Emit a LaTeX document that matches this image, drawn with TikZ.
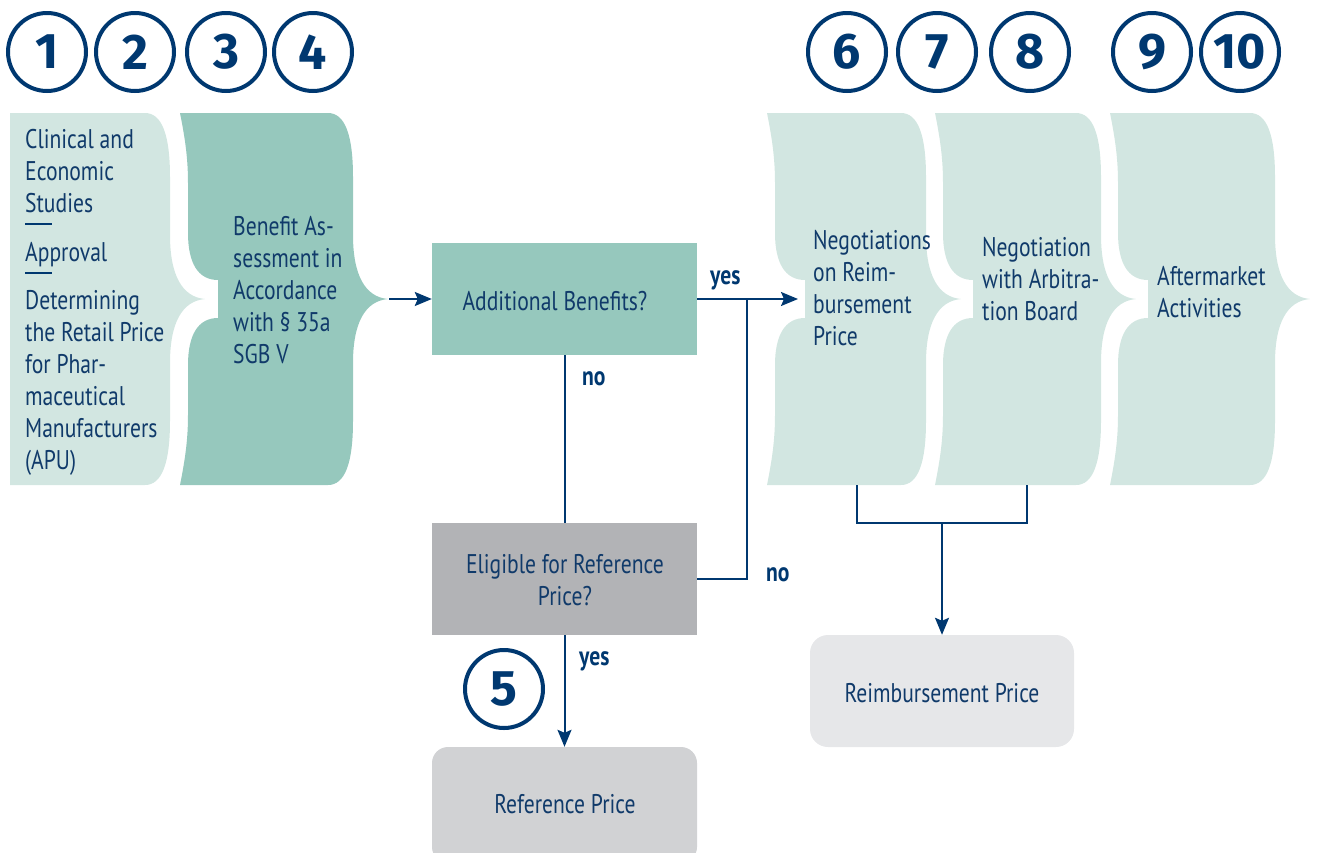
\documentclass[tikz,border=0pt]{standalone}
\usepackage{fontspec}
\setmainfont{PT Sans}[FakeStretch=0.8]
\newfontfamily\numfont{Fira Sans}
\usetikzlibrary{arrows.meta}
\definecolor{tlight}{RGB}{210,230,225}
\definecolor{tdark}{RGB}{150,200,189}
\definecolor{gmid}{RGB}{178,179,182}
\definecolor{glight}{RGB}{209,210,212}
\definecolor{gpale}{RGB}{230,231,233}
\definecolor{navy}{RGB}{0,56,112}
\definecolor{txt}{RGB}{16,58,106}
% right brace edge (top to bottom) of a block, body edge at x=#1
\newcommand{\bkRight}[1]{-- ({#1-25},113) .. controls ({#1-8},113) and (#1,135) .. (#1,177) -- (#1,235) .. controls (#1,275) and ({#1+12},297) .. ({#1+35},299) .. controls ({#1+12},301) and (#1,323) .. (#1,363) -- (#1,421) .. controls (#1,463) and ({#1-8},485) .. ({#1-25},485)}
% left notched edge (bottom to top) of a block, body edge at x=#1
\newcommand{\bkLeft}[1]{-- ({#1-8},485) .. controls ({#1-3},460) and (#1,440) .. (#1,415) -- (#1,365) .. controls (#1,335) and ({#1+10},318) .. ({#1+30},318) -- ({#1+30},280) .. controls ({#1+10},280) and (#1,263) .. (#1,233) -- (#1,183) .. controls (#1,158) and ({#1-3},138) .. ({#1-8},113)}
\begin{document}
\begin{tikzpicture}[x={(1pt,0pt)},y={(0pt,-1pt)},
  num/.style={circle,draw=navy,line width=4pt,minimum size=78pt,inner sep=0pt,text=navy,font=\numfont\bfseries\fontsize{50}{50}\selectfont},
  lbl/.style={inner sep=0pt,text=txt,font=\fontsize{27}{32}\selectfont},
  blbl/.style={inner sep=0pt,text=navy,font=\bfseries\fontsize{27}{32}\selectfont},
  box/.style={inner sep=0pt,minimum width=265pt,minimum height=112pt},
  ln/.style={draw=navy,line width=2pt},
  arr/.style={ln,-{Stealth[length=17pt,width=14pt,inset=3pt]}}]
\useasboundingbox (0,0) rectangle (1320,852);
% step numbers
\node[num] (n1) at (47,52) {1};
\node[num] (n2) at (135,52) {2};
\node[num] (n3) at (226,52) {3};
\node[num] (n4) at (313,52) {4};
\node[num] (n6) at (847,52) {6};
\node[num] (n7) at (937,52) {7};
\node[num] (n8) at (1030,52) {8};
\node[num] (n9) at (1152,52) {9};
\node[num] (n10) at (1240,52) {10};
\node[num] (n5) at (504,689) {5};
% process blocks
\fill[tlight] (10,485) -- (10,113) \bkRight{170} -- cycle;
\fill[tdark] (180,113) \bkRight{353} \bkLeft{188} -- cycle;
\fill[tlight] (767,113) \bkRight{926} \bkLeft{775} -- cycle;
\fill[tlight] (935,113) \bkRight{1101} \bkLeft{943} -- cycle;
\fill[tlight] (1110,113) \bkRight{1275} \bkLeft{1118} -- cycle;
% block texts
\node[lbl,anchor=base west] (t1a) at (25,148) {\begin{tabular}[t]{@{}l@{}}Clinical and\\Economic\\Studies\end{tabular}};
\draw[draw=navy,line width=1.2pt] (25,224) -- (52,224);
\node[lbl,anchor=base west] (t1b) at (25,261) {Approval};
\draw[draw=navy,line width=1.2pt] (25,273) -- (52,273);
\node[lbl,anchor=base west] (t1c) at (25,309) {\begin{tabular}[t]{@{}l@{}}Determining\\the Retail Price\\for Phar-\\maceutical\\Manufacturers\\(APU)\end{tabular}};
\node[lbl,anchor=base west] (t2) at (233,235) {\begin{tabular}[t]{@{}l@{}}Benefit As-\\sessment in\\Accordance\\with § 35a\\SGB V\end{tabular}};
\node[lbl,anchor=base west] (t6) at (813,249) {\begin{tabular}[t]{@{}l@{}}Negotiations\\on Reim-\\bursement\\Price\end{tabular}};
\node[lbl,anchor=base west] (t7) at (982,256) {\begin{tabular}[t]{@{}l@{}}Negotiation\\with Arbitra-\\tion Board\end{tabular}};
\node[lbl,anchor=base west] (t9) at (1157,285) {\begin{tabular}[t]{@{}l@{}}Aftermarket\\Activities\end{tabular}};
% decision and result boxes
\node[box,fill=tdark] (AB) at (564.5,299) {};
\node[lbl,anchor=base] (tAB) at (555,310) {Additional Benefits?};
\node[box,fill=gmid] (EL) at (564.5,579) {};
\node[lbl,anchor=base] (tEL) at (565,573) {\begin{tabular}[t]{@{}c@{}}Eligible for Reference\\Price?\end{tabular}};
\node[box,fill=glight,rounded corners=16pt,minimum height=116pt] (RP) at (564.5,805) {};
\node[lbl,anchor=base] (tRP) at (565,813) {Reference Price};
\node[box,fill=gpale,rounded corners=18pt,minimum width=264pt] (RB) at (942,691) {};
\node[lbl,anchor=base] (tRB) at (942,702) {Reimbursement Price};
% connector points
\coordinate (tip2) at (389,299);
\coordinate (in6) at (798,299);
\coordinate (jn) at (747,299);
\coordinate (b6) at (857,485);
\coordinate (b7) at (1027,485);
\coordinate (jb) at (942,523);
% connectors
\draw[arr] (tip2) -- (AB.west);
\draw[arr] (AB.east) -- (in6);
\draw[ln] (AB.south) -- (EL.north);
\draw[ln] (EL.east) -| (jn);
\draw[arr] (EL.south) -- (RP.north);
\draw[ln] (b6) |- (jb) -| (b7);
\draw[arr] (jb) -- (RB.north);
% labels
\node[blbl,anchor=base west] (yes1) at (710,284) {yes};
\node[blbl,anchor=base west] (no1) at (582,385) {no};
\node[blbl,anchor=base west] (no2) at (766,581) {no};
\node[blbl,anchor=base west] (yes2) at (579,665) {yes};
\end{tikzpicture}
\end{document}
